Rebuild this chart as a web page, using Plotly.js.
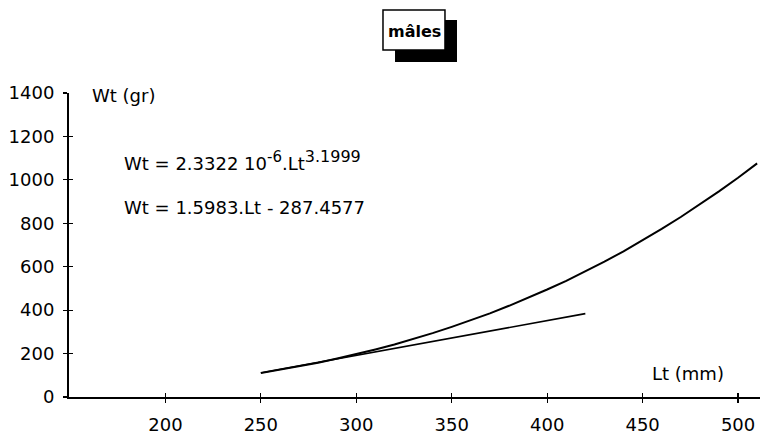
<!DOCTYPE html>
<html>
<head>
<meta charset="utf-8">
<script src="https://cdn.plot.ly/plotly-3.0.1.min.js"></script>
<style>html,body{margin:0;padding:0;background:#fff;}#chart{width:760px;height:437px;}</style>
</head>
<body>
<div id="chart"></div>
<script>
// Power curve Wt = 2.3322e-6 * Lt^3.1999
const ltPower = [250, 260, 270, 280, 290, 300, 310, 320, 330, 340, 350, 360, 370, 380, 390, 400, 410, 420, 430, 440, 450, 460, 470, 480, 490, 500, 510];
const wtPower = [110, 125, 141, 158, 177, 197, 219, 242, 267, 294, 323, 353, 385, 420, 456, 495, 535, 578, 623, 671, 721, 774, 829, 886, 947, 1010, 1076];
// Linear fit Wt = 1.5983.Lt - 287.4577
const ltLinear = [250, 420];
const wtLinear = [112, 384];

const xTickVals = [200, 250, 300, 350, 400, 450, 500];
const yTickVals = [0, 200, 400, 600, 800, 1000, 1200, 1400];

const titleText = "<b>mâles</b>";
const yAxisLabel = "Wt (gr)";
const xAxisLabel = "Lt (mm)";
const eqPower = "Wt = 2.3322 10<sup><span style=\"font-size:15px\">-6</span></sup>.Lt<sup><span style=\"font-size:16px\">3.1999</span></sup>";
const eqLinear = "Wt = 1.5983.Lt - 287.4577";

const FONT = "DejaVu Sans";

const traces = [
  {x: ltPower, y: wtPower, type: "scatter", mode: "lines", line: {color: "#000", width: 2}, hoverinfo: "skip"},
  {x: ltLinear, y: wtLinear, type: "scatter", mode: "lines", line: {color: "#000", width: 1.6}, hoverinfo: "skip"},
  {x: ltLinear, y: wtLinear, xaxis: "x2", yaxis: "y2", type: "scatter", mode: "none", hoverinfo: "skip"}
];

const axisCommon = {
  showgrid: false, zeroline: false, showline: true, linecolor: "#000", linewidth: 2,
  ticks: "outside", ticklen: 4, tickwidth: 1.2, tickcolor: "#000",
  tickfont: {family: FONT, size: 18, color: "#000"}, fixedrange: true
};

const layout = {
  width: 760, height: 437,
  margin: {l: 69, r: 0, t: 93, b: 40, pad: 0},
  paper_bgcolor: "#fff", plot_bgcolor: "#fff",
  showlegend: false,
  xaxis: Object.assign({}, axisCommon, {range: [149.5, 511.5], tickmode: "array", tickvals: xTickVals, ticklabelstandoff: 6}),
  yaxis: Object.assign({}, axisCommon, {range: [0, 1400], tickmode: "array", tickvals: yTickVals, ticklabelstandoff: 5}),
  xaxis2: {overlaying: "x", matches: "x", anchor: "y", showgrid: false, zeroline: false, showline: false, ticks: "inside", ticklen: 4, tickwidth: 1.2, tickcolor: "#000", showticklabels: false, tickmode: "array", tickvals: xTickVals},
  yaxis2: {overlaying: "y", matches: "y", anchor: "x", showgrid: false, zeroline: false, showline: false, ticks: "inside", ticklen: 4, tickwidth: 1.2, tickcolor: "#000", showticklabels: false, tickmode: "array", tickvals: yTickVals},
  shapes: [
    {type: "rect", xref: "paper", yref: "paper", x0: 0.4718, x1: 0.5615, y0: 1.102, y1: 1.2401, fillcolor: "#000", line: {width: 0}},
    {type: "rect", xref: "paper", yref: "paper", x0: 0.4544, x1: 0.5441, y0: 1.1414, y1: 1.273, fillcolor: "#fff", line: {color: "#000", width: 1.5}}
  ],
  annotations: [
    {text: titleText, xref: "paper", yref: "paper", x: 0.4993, y: 1.2039, xanchor: "center", yanchor: "middle", showarrow: false, font: {family: FONT, size: 16, color: "#000"}},
    {text: yAxisLabel, xref: "paper", yref: "paper", x: 0.0304, y: 0.9934, xanchor: "left", yanchor: "middle", showarrow: false, font: {family: FONT, size: 18, color: "#000"}},
    {text: eqPower, xref: "paper", yref: "paper", x: 0.0763, y: 0.7796, xanchor: "left", yanchor: "middle", showarrow: false, font: {family: FONT, size: 18, color: "#000"}},
    {text: eqLinear, xref: "paper", yref: "paper", x: 0.0763, y: 0.6250, xanchor: "left", yanchor: "middle", showarrow: false, font: {family: FONT, size: 18, color: "#000"}},
    {text: xAxisLabel, xref: "paper", yref: "paper", x: 0.8958, y: 0.0757, xanchor: "center", yanchor: "middle", showarrow: false, font: {family: FONT, size: 18, color: "#000"}}
  ]
};

Plotly.newPlot("chart", traces, layout, {staticPlot: true, displayModeBar: false});
</script>
</body>
</html>
